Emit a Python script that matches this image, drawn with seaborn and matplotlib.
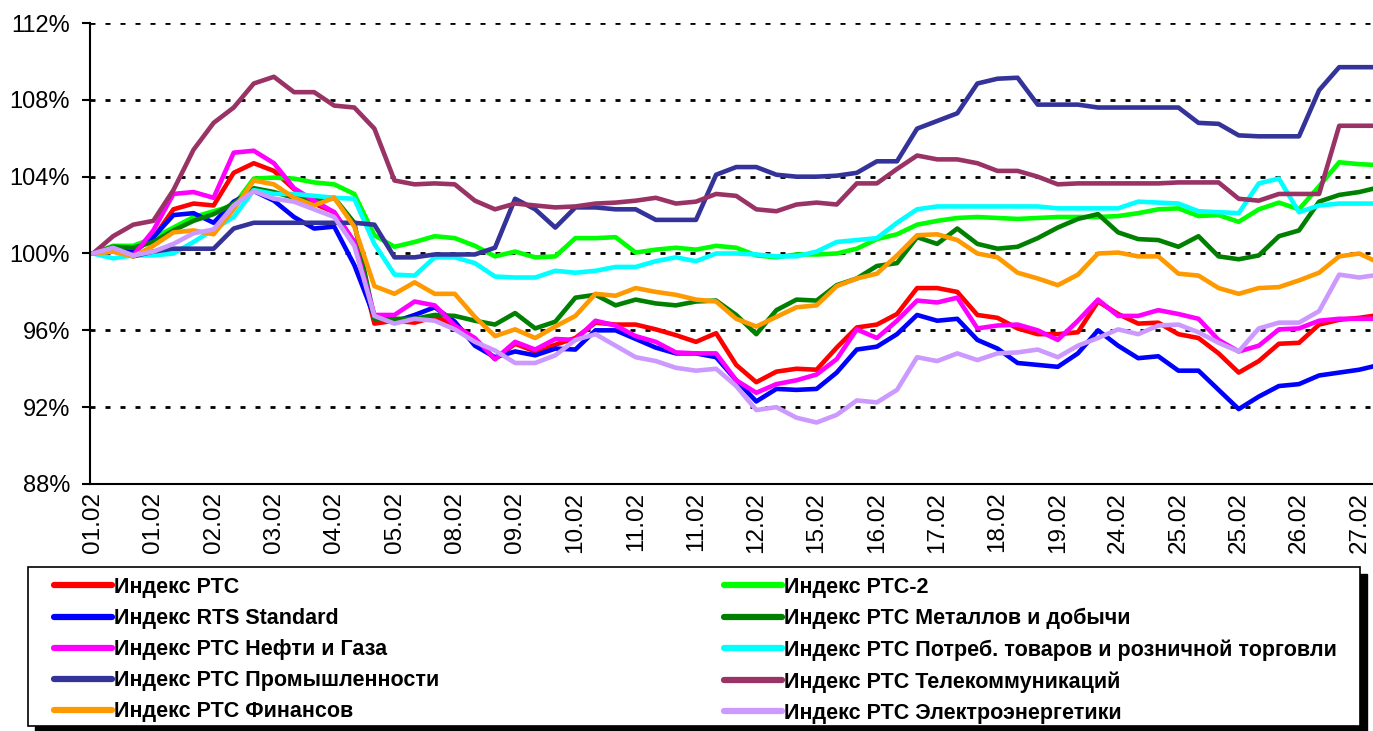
import numpy as np
import pandas as pd
import matplotlib
matplotlib.use("Agg")
import matplotlib.pyplot as plt
import seaborn as sns
from matplotlib.patches import Rectangle
from matplotlib.lines import Line2D

# ---------------- data ----------------
tick_labels = ["01.02", "01.02", "02.02", "03.02", "04.02", "05.02", "08.02",
               "09.02", "10.02", "11.02", "11.02", "12.02", "15.02", "16.02",
               "17.02", "18.02", "19.02", "24.02", "25.02", "25.02", "26.02",
               "27.02"]

series_names = [
    "Индекс РТС",
    "Индекс РТС-2",
    "Индекс RTS Standard",
    "Индекс РТС Металлов и добычи",
    "Индекс РТС Нефти и Газа",
    "Индекс РТС Потреб. товаров и розничной торговли",
    "Индекс РТС Промышленности",
    "Индекс РТС Телекоммуникаций",
    "Индекс РТС Финансов",
    "Индекс РТС Электроэнергетики",
]

colors = ["#FF0000", "#00FF00", "#0000FF", "#008000", "#FF00FF",
          "#00FFFF", "#333399", "#993366", "#FF9900", "#CC99FF"]

rts = [100, 100.3, 100.15, 100.8, 102.3, 102.6, 102.5, 104.2, 104.7, 104.3,
       103.35, 102.6, 102.15, 100.6, 96.35, 96.5, 96.4, 96.7, 96.3, 95.5,
       94.5, 95.3, 94.9, 95.25, 95.6, 96.4, 96.3, 96.3, 96.05, 95.75,
       95.4, 95.85, 94.2, 93.3, 93.85, 94.0, 93.95, 95.1, 96.15, 96.3,
       96.85, 98.2, 98.2, 98.0, 96.8, 96.65, 96.1, 95.8, 95.8, 95.9,
       97.5, 96.85, 96.35, 96.4, 95.8, 95.6, 94.8, 93.8, 94.4, 95.3,
       95.35, 96.3, 96.55, 96.65, 96.8]

rts2 = [100, 100.4, 100.4, 100.8, 101.35, 101.9, 102.2, 102.5, 103.9, 103.95,
        103.9, 103.7, 103.6, 103.1, 100.95, 100.35, 100.6, 100.9, 100.8, 100.4,
        99.85, 100.1, 99.8, 99.85, 100.8, 100.8, 100.85, 100.05, 100.2, 100.3,
        100.2, 100.4, 100.3, 99.9, 99.8, 99.95, 99.95, 100.0, 100.25, 100.75,
        101.0, 101.5, 101.7, 101.85, 101.9, 101.85, 101.8, 101.85, 101.9, 101.9,
        101.9, 101.95, 102.1, 102.3, 102.35, 101.95, 102.0, 101.65, 102.3, 102.65,
        102.3, 103.5, 104.75, 104.65, 104.6]

rts_standard = [100, 100.25, 100.05, 100.85, 102.0, 102.1, 101.6, 102.7, 103.25, 102.75,
                101.9, 101.3, 101.4, 99.4, 96.7, 96.45, 96.8, 97.2, 96.45, 95.2,
                94.6, 94.9, 94.7, 95.05, 95.0, 96.0, 96.0, 95.55, 95.1, 94.8,
                94.8, 94.6, 93.4, 92.3, 92.95, 92.9, 92.95, 93.8, 95.0, 95.15,
                95.8, 96.8, 96.5, 96.6, 95.5, 95.05, 94.3, 94.2, 94.1, 94.8,
                96.0, 95.2, 94.55, 94.65, 93.9, 93.9, 92.9, 91.9, 92.55, 93.1,
                93.2, 93.65, 93.8, 93.95, 94.2]

metals = [100, 100.35, 100.3, 100.6, 101.2, 101.7, 102.05, 102.6, 103.4, 103.2,
          102.9, 102.8, 102.9, 101.6, 96.6, 96.6, 96.6, 96.8, 96.75, 96.5,
          96.3, 96.9, 96.1, 96.45, 97.7, 97.85, 97.3, 97.6, 97.4, 97.3,
          97.5, 97.55, 96.8, 95.8, 97.05, 97.6, 97.55, 98.35, 98.7, 99.35,
          99.5, 100.85, 100.5, 101.3, 100.5, 100.25, 100.35, 100.8, 101.35, 101.8,
          102.05, 101.1, 100.75, 100.7, 100.35, 100.9, 99.85, 99.7, 99.9, 100.9,
          101.2, 102.7, 103.05, 103.2, 103.45]

oil_gas = [100, 100.1, 99.9, 101.2, 103.1, 103.2, 102.9, 105.25, 105.35, 104.7,
           103.4, 102.75, 102.15, 100.6, 96.8, 96.8, 97.5, 97.3, 96.25, 95.6,
           94.5, 95.4, 95.0, 95.55, 95.5, 96.5, 96.25, 95.7, 95.4, 94.85,
           94.8, 94.8, 93.4, 92.75, 93.2, 93.4, 93.7, 94.5, 96.05, 95.6,
           96.5, 97.55, 97.45, 97.7, 96.1, 96.25, 96.3, 96.0, 95.5, 96.5,
           97.6, 96.75, 96.75, 97.05, 96.85, 96.6, 95.5, 94.9, 95.2, 96.05,
           96.1, 96.5, 96.6, 96.6, 96.6]

consumer = [100, 99.75, 99.9, 99.9, 100.0, 100.6, 101.25, 101.9, 103.3, 103.1,
            103.1, 103.0, 102.9, 102.85, 100.5, 98.9, 98.85, 99.8, 99.8, 99.5,
            98.8, 98.75, 98.75, 99.1, 99.0, 99.1, 99.3, 99.3, 99.6, 99.8,
            99.6, 100.0, 100.0, 99.95, 99.85, 99.85, 100.1, 100.6, 100.7, 100.8,
            101.6, 102.3, 102.45, 102.45, 102.45, 102.45, 102.45, 102.45, 102.35, 102.35,
            102.35, 102.35, 102.7, 102.65, 102.6, 102.2, 102.15, 102.1, 103.65, 103.9,
            102.15, 102.5, 102.6, 102.6, 102.6]

industry = [100, 100.2, 99.85, 100.1, 100.25, 100.25, 100.25, 101.3, 101.6, 101.6,
            101.6, 101.6, 101.6, 101.6, 101.5, 99.8, 99.8, 99.95, 99.95, 99.95,
            100.3, 102.85, 102.3, 101.35, 102.4, 102.4, 102.3, 102.3, 101.75, 101.75,
            101.75, 104.1, 104.5, 104.5, 104.1, 104.0, 104.0, 104.05, 104.2, 104.8,
            104.8, 106.5, 106.9, 107.3, 108.85, 109.1, 109.15, 107.75, 107.75, 107.75,
            107.6, 107.6, 107.6, 107.6, 107.6, 106.8, 106.75, 106.15, 106.1, 106.1,
            106.1, 108.5, 109.7, 109.7, 109.7]

telecom = [100, 100.9, 101.5, 101.7, 103.3, 105.4, 106.8, 107.6, 108.85, 109.2,
           108.4, 108.4, 107.7, 107.6, 106.5, 103.8, 103.6, 103.65, 103.6, 102.75,
           102.3, 102.6, 102.5, 102.4, 102.45, 102.6, 102.65, 102.75, 102.9, 102.6,
           102.7, 103.1, 103.0, 102.3, 102.2, 102.55, 102.65, 102.55, 103.65, 103.65,
           104.4, 105.1, 104.9, 104.9, 104.7, 104.3, 104.3, 104.0, 103.6, 103.65,
           103.65, 103.65, 103.65, 103.65, 103.7, 103.7, 103.7, 102.85, 102.75, 103.1,
           103.1, 103.1, 106.65, 106.65, 106.65]

finance = [100, 100.1, 99.85, 100.4, 101.1, 101.2, 101.0, 102.3, 103.8, 103.6,
           102.9, 102.5, 102.9, 101.4, 98.3, 97.9, 98.5, 97.9, 97.9, 96.7,
           95.7, 96.05, 95.6, 96.2, 96.75, 97.9, 97.8, 98.2, 98.0, 97.85,
           97.6, 97.5, 96.6, 96.2, 96.7, 97.2, 97.3, 98.3, 98.7, 98.95,
           99.9, 100.95, 101.0, 100.7, 100.0, 99.8, 99.0, 98.7, 98.35, 98.9,
           100.0, 100.05, 99.85, 99.85, 98.95, 98.85, 98.2, 97.9, 98.2, 98.25,
           98.6, 99.0, 99.85, 100.0, 99.5]

power = [100, 100.3, 99.9, 100.1, 100.5, 101.05, 101.25, 102.5, 103.25, 102.85,
         102.7, 102.3, 101.9, 100.4, 96.75, 96.35, 96.6, 96.5, 96.05, 95.4,
         94.95, 94.3, 94.3, 94.7, 95.5, 95.8, 95.2, 94.6, 94.4, 94.05,
         93.9, 94.0, 93.1, 91.85, 92.0, 91.45, 91.2, 91.6, 92.35, 92.25,
         92.9, 94.6, 94.4, 94.8, 94.45, 94.8, 94.85, 95.0, 94.6, 95.2,
         95.6, 96.05, 95.8, 96.25, 96.3, 95.9, 95.35, 94.9, 96.1, 96.4,
         96.4, 97.0, 98.9, 98.75, 98.9]

all_series = [rts, rts2, rts_standard, metals, oil_gas,
              consumer, industry, telecom, finance, power]

points_per_label = 3

frames = []
for name, vals in zip(series_names, all_series):
    frames.append(pd.DataFrame({"t": np.arange(len(vals)), "v": vals,
                                "series": name}))
df = pd.concat(frames, ignore_index=True)

# ---------------- style ----------------
sns.set_style("white")
plt.rcParams["font.family"] = ["Liberation Sans", "DejaVu Sans"]

W, H = 1373, 731
fig = plt.figure(figsize=(W / 100, H / 100), dpi=100)
ax = fig.add_axes([90 / W, 1 - 484 / H, (W - 90) / W, (484 - 23) / H])

sns.lineplot(data=df, x="t", y="v", hue="series", hue_order=series_names,
             palette=colors, linewidth=3.3, legend=False, estimator=None,
             sort=False, ax=ax)

# axes limits / ticks
step_px = 20.1
ax.set_xlim(-3 / step_px, (W - 93) / step_px)
ax.set_ylim(88, 112)
yt = np.arange(88, 113, 4)
ax.set_yticks(yt)
ax.set_yticklabels([f"{v}%" for v in yt])
xt = np.arange(0, len(tick_labels) * points_per_label, points_per_label)
ax.set_xticks(xt)
ax.set_xticklabels(tick_labels, rotation=90)
ax.set_xlabel("")
ax.set_ylabel("")

ax.tick_params(axis="y", direction="out", length=5.8, width=1.5, pad=8.5,
               labelsize=17, colors="black", left=True)
ax.tick_params(axis="x", length=0, pad=5.5, labelsize=17.5, colors="black",
               bottom=True)

ax.set_axisbelow(True)
ax.yaxis.grid(True, color="black", linestyle=(0, (1.8, 3.6)), linewidth=2.0)
ax.xaxis.grid(False)
for s in ["top", "right"]:
    ax.spines[s].set_visible(False)
for s in ["left", "bottom"]:
    ax.spines[s].set_color("black")
    ax.spines[s].set_linewidth(1.5)

# ---------------- legend box ----------------
box_x0, box_x1, box_top, box_bot = 28, 1360, 567, 726
shadow = Rectangle((box_x0 / W + 7 / W, (H - box_bot - 7) / H),
                   (box_x1 - box_x0) / W, (box_bot - box_top) / H,
                   transform=fig.transFigure, facecolor="black",
                   edgecolor="black", zorder=1)
box = Rectangle((box_x0 / W, (H - box_bot) / H),
                (box_x1 - box_x0) / W, (box_bot - box_top) / H,
                transform=fig.transFigure, facecolor="white",
                edgecolor="black", linewidth=1.2, zorder=2)
fig.patches.extend([shadow, box])

handles = [Line2D([], [], color=c, linewidth=4.5, solid_capstyle="round")
           for c in colors]
col1 = [0, 2, 4, 6, 8]
col2 = [1, 3, 5, 7, 9]
leg_kw = dict(loc="upper left", frameon=False, ncol=1,
              prop={"weight": "bold", "size": 15.5},
              handlelength=2.7, handletextpad=0.1, labelspacing=0.47,
              borderpad=0, borderaxespad=0)
leg1 = fig.legend([handles[i] for i in col1], [series_names[i] for i in col1],
                  bbox_to_anchor=(54 / W, 1 - 577 / H), **leg_kw)
leg2 = fig.legend([handles[i] for i in col2], [series_names[i] for i in col2],
                  bbox_to_anchor=(724 / W, 1 - 577 / H), **leg_kw)
for lg in (leg1, leg2):
    lg.set_zorder(5)
    for t in lg.get_texts():
        t.set_color("black")

fig.savefig("out.png", dpi=100)
